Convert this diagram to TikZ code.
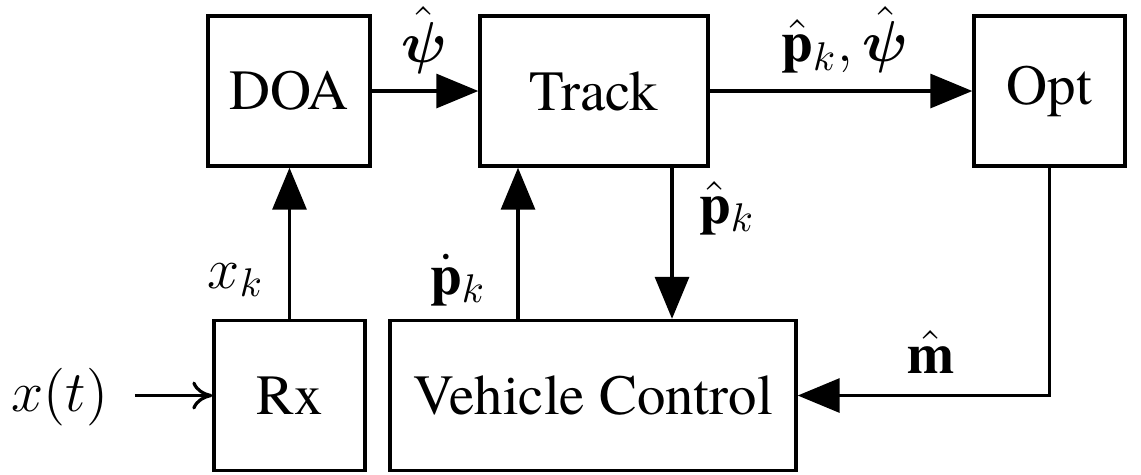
\documentclass[tikz,border=0pt]{standalone}
\usepackage{amsmath}
\usepackage{fontspec}
\IfFontExistsTF{texgyretermes-regular.otf}
  {\setmainfont{texgyretermes}[Extension=.otf,UprightFont=*-regular,BoldFont=*-bold,ItalicFont=*-italic,BoldItalicFont=*-bolditalic]}
  {\setmainfont{Liberation Serif}}
\usetikzlibrary{arrows.meta}
\begin{document}
\begin{tikzpicture}[x=0.25pt,y=-0.25pt,
  blk/.style={draw, line width=0.85pt, inner sep=0pt, minimum height=37.5pt, font=\rmfamily\fontsize{14.2}{17}\selectfont},
  conn/.style={line width=0.8pt, -{Triangle[length=10.5pt,width=8.5pt]}},
  thinconn/.style={line width=0.8pt, -{Computer Modern Rightarrow[length=5pt,width=7pt]}},
  lbl/.style={inner sep=0pt, font=\rmfamily\fontsize{14.2}{17}\selectfont}]
\useasboundingbox (0,0) rectangle (1141,474);
% blocks
\node[blk, minimum width=40.5pt] (doa) at (289,91) {DOA};
\node[blk, minimum width=57pt] (track) at (594,91) {Track};
\node[blk, minimum width=37.75pt] (opt) at (1049.5,91) {Opt};
\node[blk, minimum width=37.75pt] (rx) at (289.5,395.5) {Rx};
\node[blk, minimum width=101.5pt] (vc) at (593,395.5) {Vehicle Control};
% input
\node[lbl] (xt) at (60,397) {$x(t)$};
% helper coordinates
\coordinate (up) at (518,0);
\coordinate (dn) at (672,0);
% connectors
\draw[thinconn, shorten <=6.5pt] (xt.east |- rx.west) -- (rx.west);
\draw[conn] (rx.north) -- (rx.north |- doa.south);
\draw[conn] (doa.east) -- (track.west);
\draw[conn] (track.east) -- (opt.west);
\draw[conn] (dn |- track.south) -- (dn |- vc.north);
\draw[conn] (up |- vc.north) -- (up |- track.south);
\draw[conn] (opt.south) |- (vc.east);
% labels
\node[lbl] (lpsi) at (424,40) {$\hat{\boldsymbol{\psi}}$};
\node[lbl] (lppsi) at (845,40) {$\hat{\mathbf{p}}_k, \hat{\boldsymbol{\psi}}$};
\node[lbl] (lpk) at (727,208) {$\hat{\mathbf{p}}_k$};
\node[lbl] (ldp) at (458,280) {$\dot{\mathbf{p}}_k$};
\node[lbl] (lxk) at (236,280) {$x_k$};
\node[lbl] (lm) at (931,352) {$\hat{\mathbf{m}}$};
\end{tikzpicture}
\end{document}
